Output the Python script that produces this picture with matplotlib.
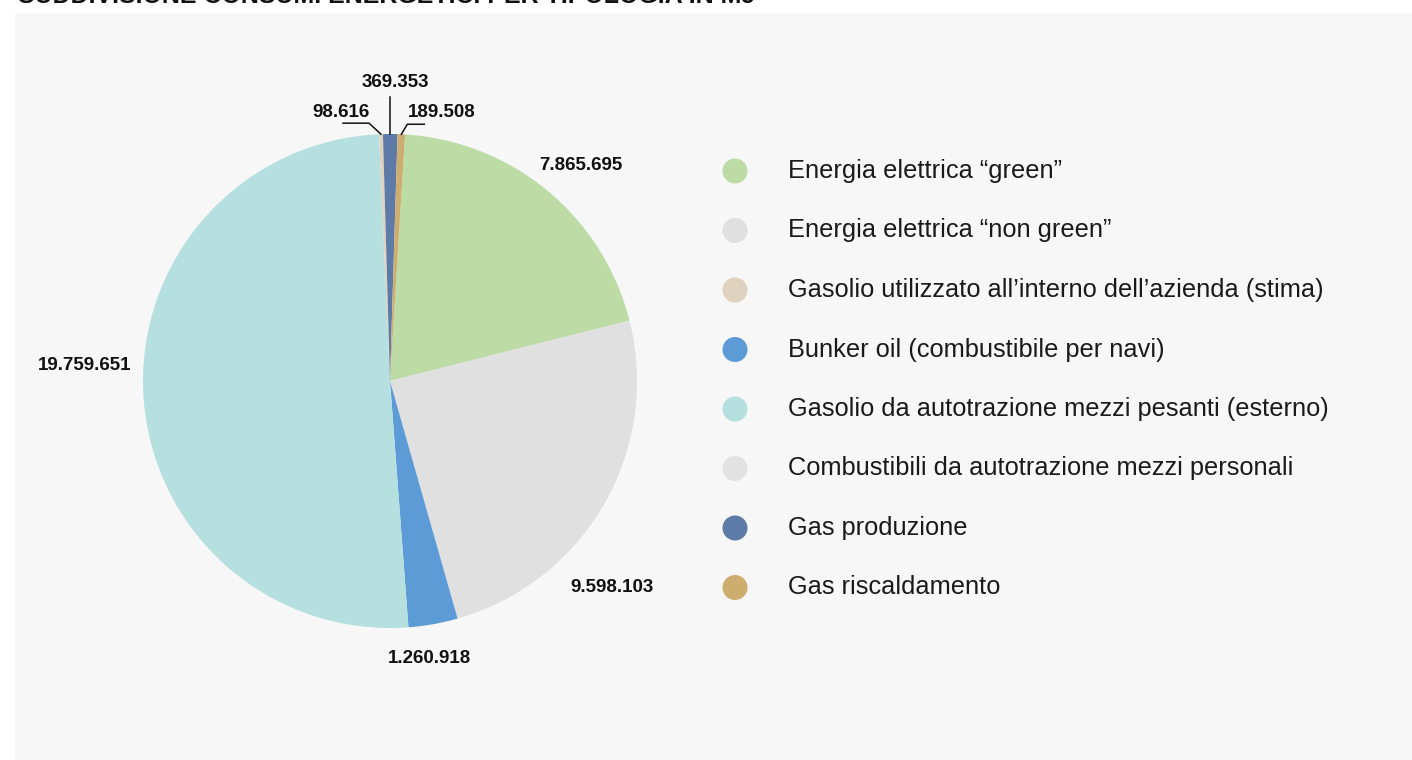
"""
Pie chart of energy consumption by type (MJ), Italian labels
"""
import numpy as np
import matplotlib
matplotlib.use('Agg')
import matplotlib.pyplot as plt
from matplotlib.patches import Rectangle

# Data (legend order)
categories = [
    'Energia elettrica \u201cgreen\u201d',
    'Energia elettrica \u201cnon green\u201d',
    'Gasolio utilizzato all\u2019interno dell\u2019azienda (stima)',
    'Bunker oil (combustibile per navi)',
    'Gasolio da autotrazione mezzi pesanti (esterno)',
    'Combustibili da autotrazione mezzi personali',
    'Gas produzione',
    'Gas riscaldamento',
]
consumi = [7865695, 9598103, 98616, 1260918, 19759651, 0, 369353, 189508]
colori = ['#bcdba5', '#e0e0e0', '#dfd3c0', '#5c9bd6',
          '#b6dfdf', '#e2e2e2', '#5e7aa6', '#cdae6f']

# order of the slices going clockwise around the pie
ordine_fette = [0, 1, 3, 4, 5, 2, 6, 7]

titolo = 'SUDDIVISIONE CONSUMI ENERGETICI PER TIPOLOGIA IN MJ'

W, H = 1412, 760
fig = plt.figure(figsize=(W / 100, H / 100), dpi=100)
ax = fig.add_axes([0, 0, 1, 1])


def Y(y):
    # work in pixels measured from the top
    return H - y


# grey panel behind the chart
ax.add_patch(Rectangle((15, 0), W - 15, H - 13, color='#f7f7f7', zorder=0))

# title runs off the top edge of the page
ax.text(18, Y(3), titolo, fontsize=18, fontweight='bold', color='#111111',
        family='Liberation Sans', va='baseline', ha='left', clip_on=False)

cx, cy, r = 390, Y(381), 247
vals = [consumi[i] for i in ordine_fette]
cols = [colori[i] for i in ordine_fette]
wedges, _ = ax.pie(vals, colors=cols, startangle=86.5, counterclock=False,
                   center=(cx, cy), radius=r, frame=True,
                   wedgeprops=dict(linewidth=0))
ax.set_xlim(0, W)
ax.set_ylim(0, H)
ax.axis('off')


def fmt(v):
    return f'{v:,}'.replace(',', '.')


# label centre: distance (fraction of r) and angle shift from the slice middle
pos_etichette = {0: (1.166, 1.9), 1: (1.228, 13.0), 3: (1.134, 2.0), 4: (1.236, 6.4)}
# leader lines for the thin slices: elbow offset, horizontal run, text offset
guide = {
    2: ((-12, 11), -26, (-2, 11)),
    6: ((0, 37), 0, (5, 15)),
    7: ((6, 10), 17, (17, 12)),
}

font_num = dict(fontsize=13.5, fontweight='bold', color='#111111',
                family='Liberation Sans')

for w, idx in zip(wedges, ordine_fette):
    v = consumi[idx]
    if v == 0:
        continue
    mid = (w.theta1 + w.theta2) / 2
    if idx in pos_etichette:
        k, shift = pos_etichette[idx]
        ang = np.deg2rad(mid - shift)
        ax.text(cx + k * r * np.cos(ang), cy + k * r * np.sin(ang), fmt(v),
                ha='center', va='center', **font_num)
    else:
        ang = np.deg2rad(mid)
        (ex, ey), run, (tx, ty) = guide[idx]
        x0, y0 = cx + r * np.cos(ang), cy + r * np.sin(ang)
        x1, y1 = x0 + ex, y0 + ey
        x2, y2 = x1 + run, y1
        ax.plot([x0, x1, x2], [y0, y1, y2], color='#111111', lw=1.1)
        ax.text(x2 + tx, y2 + ty, fmt(v), ha='center', va='center', **font_num)

# legend
leg_y0, leg_step = 171, 59.5
for i, (cat, col) in enumerate(zip(categories, colori)):
    yy = Y(leg_y0 + i * leg_step)
    ax.scatter([735], [yy], s=18 ** 2, color=col, edgecolors='none')
    ax.text(788, yy, cat, fontsize=18.3, color='#1a1a1a',
            family='Liberation Sans', va='center', ha='left')

fig.savefig('out.png', dpi=100, facecolor='white')
plt.close(fig)
